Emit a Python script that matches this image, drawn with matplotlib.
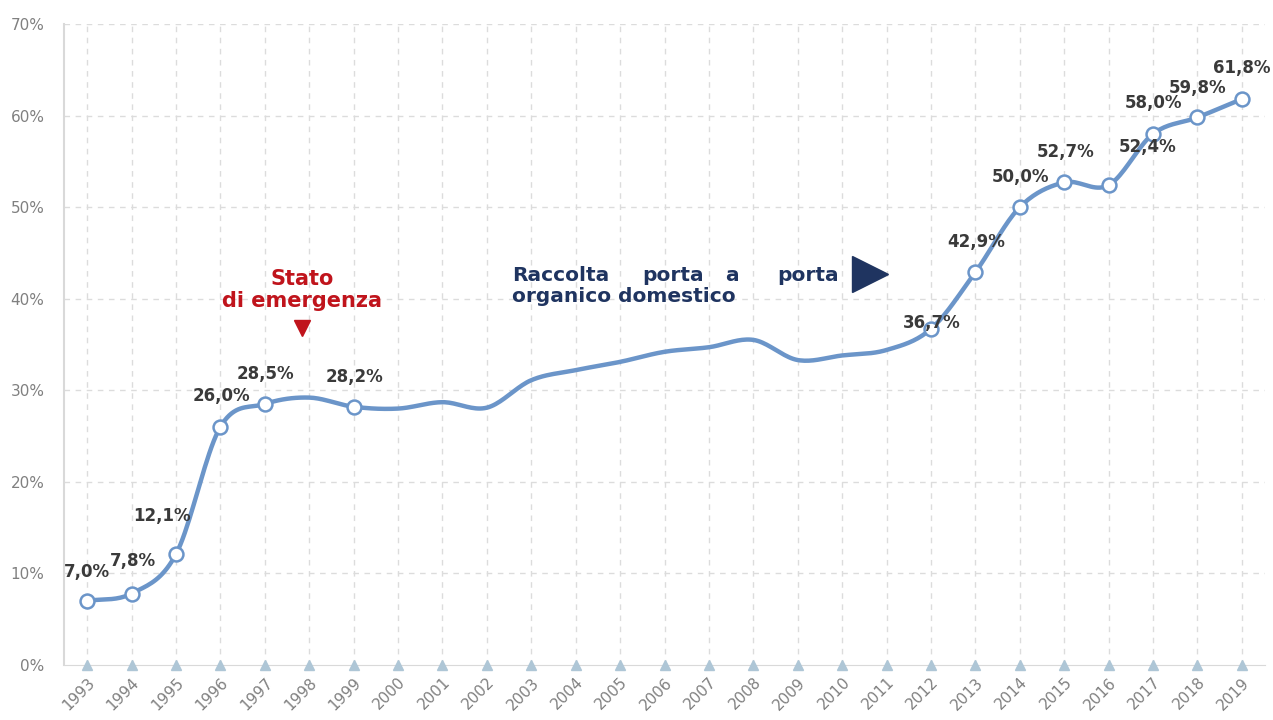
import numpy as np
import matplotlib
import matplotlib.pyplot as plt

matplotlib.use('agg')

years = list(range(1993, 2020))
values = [7.0, 7.8, 12.1, 26.0, 28.5, 29.2, 28.2, 28.0, 28.7, 28.1, 31.1, 32.2, 33.1,
          34.2, 34.7, 35.5, 33.3, 33.8, 34.4, 36.7, 42.9, 50.0, 52.7, 52.4, 58.0, 59.8, 61.8]
labelled_years = [1993, 1994, 1995, 1996, 1997, 1999, 2012, 2013, 2014, 2015, 2016, 2017, 2018, 2019]
label_texts = ['7,0%', '7,8%', '12,1%', '26,0%', '28,5%', '28,2%', '36,7%', '42,9%',
               '50,0%', '52,7%', '52,4%', '58,0%', '59,8%', '61,8%']
# label offsets in pixels (dx, dy) from each marker
label_offsets = [(0, 29), (1, 33), (-14, 38), (1, 31), (1, 30), (1, 30), (1, 6),
                 (1, 30), (1, 30), (1, 30), (39, 38), (0, 31), (0, 29), (0, 31)]

line_color = '#6b95c9'
grid_color = '#dcdcdc'


def smooth(x, y, n=20):
    # catmull-rom spline through the points, like excel's smoothed line
    x = np.asarray(x, float)
    y = np.asarray(y, float)
    px = np.concatenate([[2 * x[0] - x[1]], x, [2 * x[-1] - x[-2]]])
    py = np.concatenate([[2 * y[0] - y[1]], y, [2 * y[-1] - y[-2]]])
    xs, ys = [], []
    t = np.linspace(0, 1, n, endpoint=False)
    for i in range(1, len(px) - 2):
        for p, out in ((px, xs), (py, ys)):
            p0, p1, p2, p3 = p[i - 1], p[i], p[i + 1], p[i + 2]
            out.extend(0.5 * (2 * p1 + (-p0 + p2) * t + (2 * p0 - 5 * p1 + 4 * p2 - p3) * t ** 2
                              + (-p0 + 3 * p1 - 3 * p2 + p3) * t ** 3))
    xs.append(x[-1])
    ys.append(y[-1])
    return np.array(xs), np.array(ys)


fig = plt.figure(figsize=(12.73, 7.2), dpi=100)
ax = fig.add_axes([0.0503, 0.0764, 0.9434, 0.8903])

ax.set_xlim(1992.48, 2019.52)
ax.set_ylim(0, 70)

for v in range(10, 71, 10):
    ax.axhline(v, color=grid_color, lw=1, ls=(0, (4, 4)), zorder=0)
for yr in years:
    ax.axvline(yr, color=grid_color, lw=1, ls=(0, (4, 4)), zorder=0)

for s in ['top', 'right']:
    ax.spines[s].set_visible(False)
ax.spines['left'].set_color('#d9d9d9')
ax.spines['bottom'].set_color('#d9d9d9')
ax.spines['left'].set_linewidth(1.5)

ax.plot(years, [0] * len(years), ls='none', marker='^', ms=7, color='#aec6d6', clip_on=False, zorder=3)

sx, sy = smooth(years, values)
ax.plot(sx, sy, color=line_color, lw=3.2, solid_capstyle='round', zorder=4)

lab_vals = [values[years.index(yr)] for yr in labelled_years]
ax.plot(labelled_years, lab_vals, ls='none', marker='o', ms=10, mfc='white', mec=line_color, mew=1.8, zorder=5)

for yr, v, txt, (dx, dy) in zip(labelled_years, lab_vals, label_texts, label_offsets):
    ax.annotate(txt, (yr, v), xytext=(dx * 0.72, dy * 0.72), textcoords='offset points',
                ha='center', va='center', fontsize=12, fontweight='bold', color='#3a3a3a', zorder=6)

ax.set_yticks(range(0, 71, 10))
ax.set_yticklabels([f'{v}%' for v in range(0, 71, 10)], fontsize=11, color='#808080')
ax.set_xticks(years)
ax.set_xticklabels([str(y) for y in years], rotation=45, fontsize=11, color='#808080', ha='right',
                   rotation_mode='anchor')
ax.tick_params(axis='both', length=0, pad=7)
ax.tick_params(axis='y', pad=14)

red = '#c0141c'
ax.text(1997.84, 41.5, 'Stato', ha='center', va='baseline', fontsize=15, fontweight='bold', color=red)
ax.text(1997.84, 39.1, 'di emergenza', ha='center', va='baseline', fontsize=15, fontweight='bold', color=red)
ax.plot([1997.84], [36.8], marker='v', ms=12, color=red, ls='none')

navy = '#1f3460'
for word, xw in zip(['Raccolta', 'porta', 'a', 'porta'], [2002.57, 2005.49, 2007.36, 2008.53]):
    ax.text(xw, 41.93, word, ha='left', va='baseline', fontsize=14.5, fontweight='bold', color=navy)
ax.text(2002.57, 39.64, 'organico domestico', ha='left', va='baseline', fontsize=14.5, fontweight='bold', color=navy)
ax.plot([2010.63], [42.7], marker='>', ms=26, color=navy, ls='none')

fig.savefig('out.png', dpi=100)
